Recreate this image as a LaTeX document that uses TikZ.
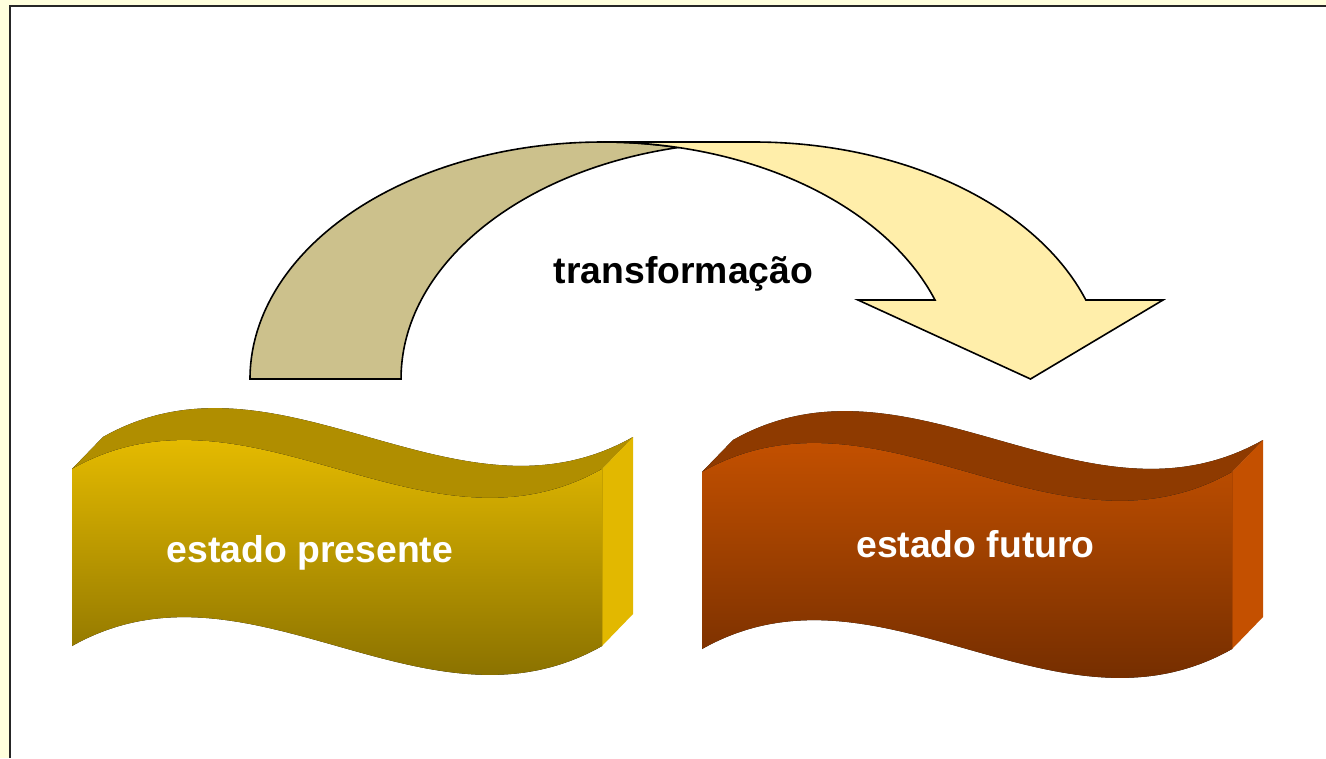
\documentclass[tikz,border=0pt]{standalone}
\usepackage{fontspec}
\setmainfont{Liberation Sans}
\definecolor{pagebg}{RGB}{255,255,221}
\definecolor{arcback}{RGB}{204,193,140}
\definecolor{arcfront}{RGB}{255,238,170}
\definecolor{presenttop}{RGB}{255,208,0}
\definecolor{presentmid}{RGB}{214,172,0}
\definecolor{presentbot}{RGB}{112,92,0}
\definecolor{presentlid}{RGB}{176,142,0}
\definecolor{presentlidd}{RGB}{152,120,0}
\definecolor{presentside}{RGB}{226,184,0}
\definecolor{futuretop}{RGB}{218,90,0}
\definecolor{futuremid}{RGB}{184,72,0}
\definecolor{futurebot}{RGB}{94,36,0}
\definecolor{futurelid}{RGB}{142,58,0}
\definecolor{futurelidd}{RGB}{124,48,0}
\definecolor{futureside}{RGB}{196,80,0}
\tikzset{
    framel/.style = {line width=1.5pt, black!85},
    backarc/.style = {fill=arcback, draw=black, line width=1.2pt, x radius=264.4pt, y radius=177.75pt},
    frontarc/.style = {fill=arcfront, draw=black, line width=1.2pt, x radius=264.4pt, y radius=177.75pt},
    frontp/.style = {top color=presenttop, middle color=presentmid, bottom color=presentbot},
    topp/.style = {left color=presentlid, middle color=presentlidd, right color=presentlid},
    sidep/.style = {fill=presentside},
    frontf/.style = {top color=futuretop, middle color=futuremid, bottom color=futurebot},
    topf/.style = {left color=futurelid, middle color=futurelidd, right color=futurelid},
    sidef/.style = {fill=futureside},
    bigtext/.style = {anchor=base, inner sep=0pt, font=\fontsize{28}{34}\selectfont\bfseries},
    wavetext/.style = {bigtext, text=white},
    arctext/.style = {bigtext, text=black}
}
\begin{document}
\begin{tikzpicture}[x=0.75pt, y=-0.75pt]
  \useasboundingbox (0,0) rectangle (1326,758);
  \fill[pagebg] (0,0) rectangle (1326,758);
  \fill[white] (10,6) rectangle (1326,758);
  \draw[framel] (10,758) -- (10,6) -- (1326,6);

  % curved arrow
  \filldraw[backarc] (250,379) arc[start angle=180, end angle=77.63]
      arc[start angle=102.37, end angle=180] -- cycle;
  \filldraw[frontarc] (1030.5,379) -- (858,300) -- (935,300)
      arc[start angle=19.47, end angle=90] -- (753.5,142)
      arc[start angle=90, end angle=19.47] -- (1163,300) -- cycle;
  \node[arctext] (trans) at (683.5,283) {transformação};

  % estado presente
  \fill[topp] (72,469) .. controls (248.7,369) and (425.3,569) .. (602,469)
      -- (633,437) .. controls (456.3,537) and (279.7,337) .. (103,437) -- cycle;
  \fill[sidep] (602,469) -- (633,437) -- (633,614) -- (602,646) -- cycle;
  \fill[frontp] (72,469) .. controls (248.7,369) and (425.3,569) .. (602,469)
      -- (602,646) .. controls (425.3,746) and (248.7,546) .. (72,646) -- cycle;
  \node[wavetext] (present) at (310,562) {estado presente};

  % estado futuro
  \fill[topf] (702,472) .. controls (878.7,372) and (1055.3,572) .. (1232,472)
      -- (1263,440) .. controls (1086.3,540) and (909.7,340) .. (733,440) -- cycle;
  \fill[sidef] (1232,472) -- (1263,440) -- (1263,617) -- (1232,649) -- cycle;
  \fill[frontf] (702,472) .. controls (878.7,372) and (1055.3,572) .. (1232,472)
      -- (1232,649) .. controls (1055.3,749) and (878.7,549) .. (702,649) -- cycle;
  \node[wavetext] (future) at (975.5,557) {estado futuro};
\end{tikzpicture}
\end{document}
